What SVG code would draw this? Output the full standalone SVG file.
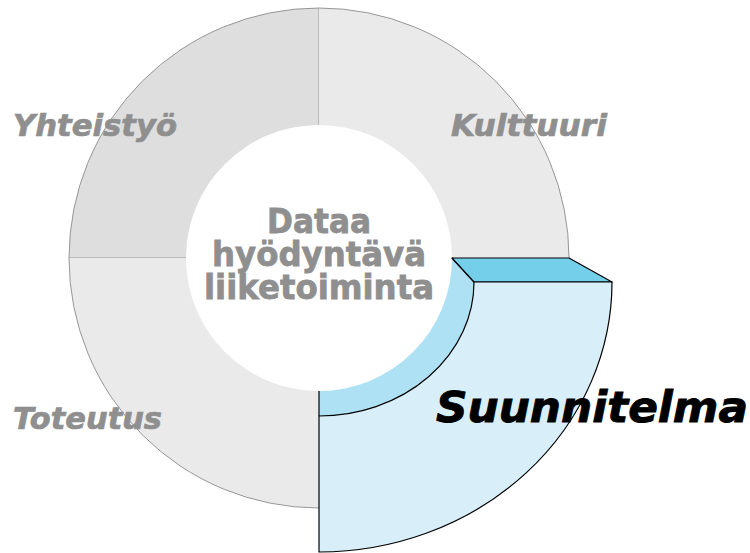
<svg xmlns="http://www.w3.org/2000/svg" width="750" height="553" viewBox="0 0 750 553">
<style>
.rim{stroke:#8c8c8c;stroke-width:0.9;fill:none}
.lbl{font-family:"DejaVu Sans","Liberation Sans",sans-serif;font-weight:bold;font-style:italic;fill:#8f8f8f;stroke:#8f8f8f;stroke-width:0.7}
.ctr{font-family:"DejaVu Sans","Liberation Sans",sans-serif;font-weight:bold;fill:#8f8f8f;stroke:#8f8f8f;stroke-width:0.8;font-size:34px;text-anchor:middle}
.edge{stroke:#000;stroke-width:1.2;fill:none}
</style>
<rect width="750" height="553" fill="#fff"/>
<g id="yhteistyo">
<path fill="#dedede" d="M69,258 A250,250 0 0,1 319,8 L319,125 A133,133 0 0,0 186,258 Z"/>
<path class="rim" d="M186,258 L69,258 A250,250 0 0,1 319,8 L319,125"/>
<text class="lbl" x="13" y="136" font-size="30" textLength="164" lengthAdjust="spacingAndGlyphs">Yhteistyö</text>
</g>
<g id="kulttuuri">
<path fill="#eaeaea" d="M319,8 A250,250 0 0,1 569,258 L452,258 A133,133 0 0,0 319,125 Z"/>
<path class="rim" d="M319,8 A250,250 0 0,1 569,258"/>
<text class="lbl" x="451" y="136" font-size="30" textLength="156" lengthAdjust="spacingAndGlyphs">Kulttuuri</text>
</g>
<g id="toteutus">
<path fill="#eaeaea" d="M319,508 A250,250 0 0,1 69,258 L186,258 A133,133 0 0,0 319,391 Z"/>
<path class="rim" d="M319,508 A250,250 0 0,1 69,258"/>
<text class="lbl" x="13" y="429" font-size="30" textLength="149" lengthAdjust="spacingAndGlyphs">Toteutus</text>
</g>
<g id="center">
<text class="ctr" x="319" y="233" textLength="104" lengthAdjust="spacingAndGlyphs">Dataa</text>
<text class="ctr" x="319" y="266" textLength="214" lengthAdjust="spacingAndGlyphs">hyödyntävä</text>
<text class="ctr" x="319" y="299" textLength="230" lengthAdjust="spacingAndGlyphs">liiketoiminta</text>
</g>
<g id="suunnitelma">
<path fill="#ade1f3" d="M452,258 L474,282 A155,134 0 0,1 319,416 L319,391 A133,133 0 0,0 452,258 Z"/>
<path class="edge" d="M452,258 L474,282 M319,391 L319,416"/>
<polygon fill="#74cfea" stroke="#000" stroke-width="1.2" stroke-linejoin="round" points="452,258 569,258 612,282 474,282"/>
<path fill="#d8eff9" stroke="#000" stroke-width="1.2" d="M474,282 L612,282 A293,270 0 0,1 319,552 L319,416 A155,134 0 0,0 474,282 Z"/>
<text x="436" y="422" font-family="DejaVu Sans, Liberation Sans, sans-serif" font-weight="bold" font-style="italic" font-size="43" fill="#000" stroke="#000" stroke-width="0.9" textLength="312" lengthAdjust="spacingAndGlyphs">Suunnitelma</text>
</g>
</svg>
